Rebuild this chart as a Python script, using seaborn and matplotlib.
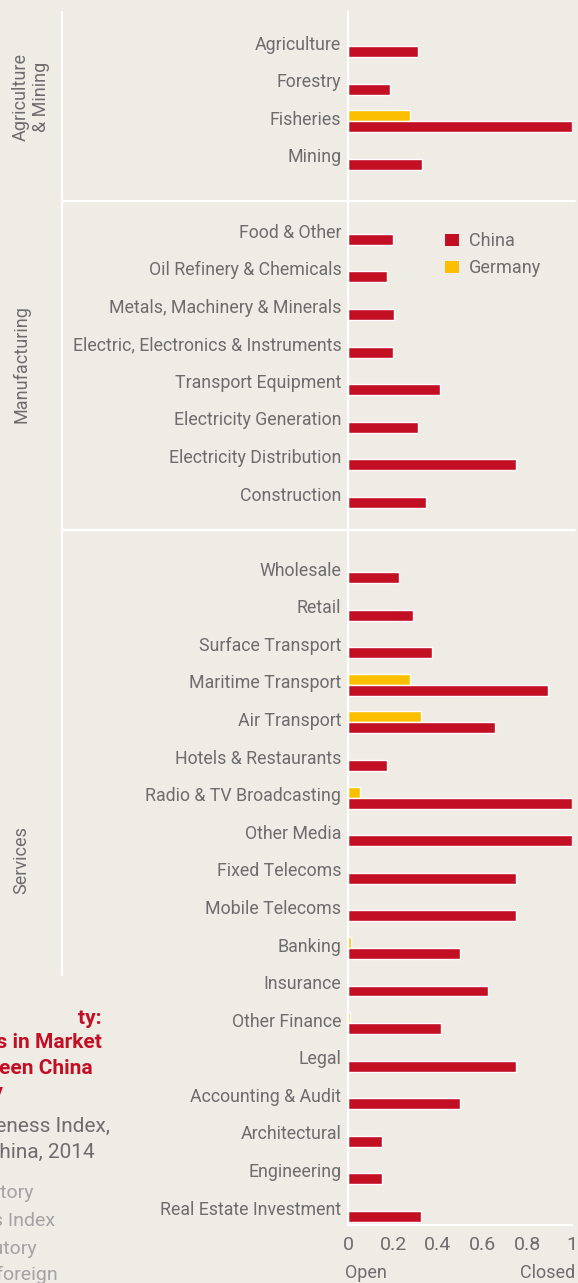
import matplotlib
matplotlib.use("Agg")
import matplotlib.pyplot as plt
import matplotlib.transforms as mtransforms
import seaborn as sns
import pandas as pd
from matplotlib.lines import Line2D
from matplotlib.patches import Patch

# ---------------- data ----------------
agri_sectors = ["Agriculture", "Forestry", "Fisheries", "Mining"]
agri_china = [0.31, 0.186, 1.0, 0.329]
agri_germany = [0.0, 0.0, 0.276, 0.0]

manu_sectors = ["Food & Other", "Oil Refinery & Chemicals", "Metals, Machinery & Minerals",
                "Electric, Electronics & Instruments", "Transport Equipment",
                "Electricity Generation", "Electricity Distribution", "Construction"]
manu_china = [0.2, 0.173, 0.204, 0.2, 0.41, 0.311, 0.75, 0.347]
manu_germany = [0.0, 0.0, 0.0, 0.0, 0.0, 0.0, 0.0, 0.0]

serv_sectors = ["Wholesale", "Retail", "Surface Transport", "Maritime Transport", "Air Transport",
                "Hotels & Restaurants", "Radio & TV Broadcasting", "Other Media", "Fixed Telecoms",
                "Mobile Telecoms", "Banking", "Insurance", "Other Finance", "Legal",
                "Accounting & Audit", "Architectural", "Engineering", "Real Estate Investment"]
serv_china = [0.227, 0.289, 0.374, 0.893, 0.656, 0.173, 1.0, 1.0, 0.75,
              0.75, 0.5, 0.624, 0.414, 0.75, 0.5, 0.151, 0.151, 0.325]
serv_germany = [0.0, 0.0, 0.0, 0.276, 0.325, 0.0, 0.052, 0.0, 0.0,
                0.0, 0.013, 0.0, 0.008, 0.0, 0.0, 0.0, 0.0, 0.0]

group_names = ["Agriculture\n& Mining", "Manufacturing", "Services"]
series_names = ["China", "Germany"]
x_ticks = [0, 0.2, 0.4, 0.6, 0.8, 1]
x_tick_labels = ["0", "0.2", "0.4", "0.6", "0.8", "1"]

# ---------------- styling ----------------
BG = "#efebe5"
RED = "#c30f24"
YELLOW = "#fbbf00"
GRAY = "#6d6d6d"
LIGHTGRAY = "#a3a3a3"

sns.set_style("white", {"axes.facecolor": BG, "figure.facecolor": BG})
plt.rcParams["font.family"] = ["Roboto", "DejaVu Sans"]

sectors = agri_sectors + manu_sectors + serv_sectors
china = agri_china + manu_china + serv_china
germany = agri_germany + manu_germany + serv_germany
df = pd.DataFrame({
    "sector": sectors * 2,
    "country": ["China"] * len(sectors) + ["Germany"] * len(sectors),
    "value": china + germany,
})
order = agri_sectors + [" "] + manu_sectors + ["  "] + serv_sectors

fig = plt.figure(figsize=(5.78, 12.83), dpi=100)
W, H = 578.0, 1283.0
ax = fig.add_axes([348.3 / W, 1 - 1225 / H, (572 - 348.3) / W, (1225 - 12) / H])

sns.barplot(data=df, y="sector", x="value", hue="country", order=order,
            hue_order=["Germany", "China"], palette={"China": RED, "Germany": YELLOW},
            orient="h", width=0.585, ax=ax, legend=False, saturation=1, errorbar=None)

ax.set_facecolor(BG)
ax.set_xlim(0, 1)
ax.set_ylim(31.373, -0.905)
ax.set_xlabel("")
ax.set_ylabel("")
for s in ["top", "right"]:
    ax.spines[s].set_visible(False)
for s in ["left", "bottom"]:
    ax.spines[s].set_color("white")
    ax.spines[s].set_linewidth(1.6)

ax.set_xticks(x_ticks)
ax.set_xticklabels(x_tick_labels)
ax.tick_params(axis="x", direction="in", length=21.5, width=1.2, color="white",
               pad=8, labelsize=14, labelcolor=GRAY)
ax.set_yticks(range(len(order)))
ax.set_yticklabels([o if o.strip() else "" for o in order])
ax.tick_params(axis="y", length=0, pad=5, labelsize=12.8, labelcolor=GRAY)
for lab in ax.get_yticklabels():
    lab.set_verticalalignment("center")
    lab.set_transform(lab.get_transform() + mtransforms.ScaledTranslation(0, 1.0 / 72, fig.dpi_scale_trans))

# Open / Closed
fig.text(345 / W, 1 - 1273 / H, "Open", ha="left", va="center", fontsize=13, color=GRAY)
fig.text(575 / W, 1 - 1273 / H, "Closed", ha="right", va="center", fontsize=13, color=GRAY)

# legend
handles = [Patch(facecolor=RED, edgecolor="none"), Patch(facecolor=YELLOW, edgecolor="none")]
fig.legend(handles, series_names, loc="upper left", bbox_to_anchor=(429 / W, 1 - 216 / H),
           frameon=False, fontsize=13, labelcolor=GRAY, handlelength=0.75, handleheight=0.6,
           handletextpad=0.55, labelspacing=0.5)

# group separators
def fline(x0, y0, x1, y1, lw=1.6):
    fig.add_artist(Line2D([x0 / W, x1 / W], [1 - y0 / H, 1 - y1 / H], color="white",
                          lw=lw, transform=fig.transFigure))

fline(62, 12, 62, 975)
fline(62, 201, 575, 201)
fline(62, 530, 575, 530)

# group labels
fig.text(31 / W, 1 - 97 / H, group_names[0], rotation=90, ha="center", va="center",
         fontsize=13, color=GRAY, multialignment="center", linespacing=1.15)
fig.text(21 / W, 1 - 364 / H, group_names[1], rotation=90, ha="center", va="center",
         fontsize=13, color=GRAY)
fig.text(21 / W, 1 - 860 / H, group_names[2], rotation=90, ha="center", va="center",
         fontsize=13, color=GRAY)

# clipped title block from adjacent panel
title_lines = ["Key Opportunity:", "Differences in Market", "Openness between China", "and Germany"]
title_y = [1019, 1043, 1068, 1093]
title_x = [102, 102, 93, 3]
for i, (t, y, x) in enumerate(zip(title_lines, title_y, title_x)):
    txt = fig.text(x / W, 1 - y / H, t, ha="right", va="center", fontsize=15,
                   fontweight="bold", color=RED)
    if i == 0:
        clip = mtransforms.TransformedBbox(
            mtransforms.Bbox([[78 / W, 0], [1, 1]]), fig.transFigure)
        txt.set_clip_box(clip)
        txt.set_clip_on(True)
sub_lines = ["OECD FDI Regulatory Restrictiveness Index,", "Germany and China, 2014"]
for t, y, x in zip(sub_lines, [1126, 1153], [110, 95]):
    fig.text(x / W, 1 - y / H, t, ha="right", va="center", fontsize=15, color=GRAY)
note_lines = ["Source: OECD FDI Regulatory", "Restrictiveness Index", "Note: index measures statutory",
              "restrictions on foreign"]
for t, y, x in zip(note_lines, [1193, 1221, 1249, 1275], [34, 55, 37, 58]):
    fig.text(x / W, 1 - y / H, t, ha="right", va="center", fontsize=14, color=LIGHTGRAY)

fig.savefig("out.png", dpi=100, facecolor=BG)
